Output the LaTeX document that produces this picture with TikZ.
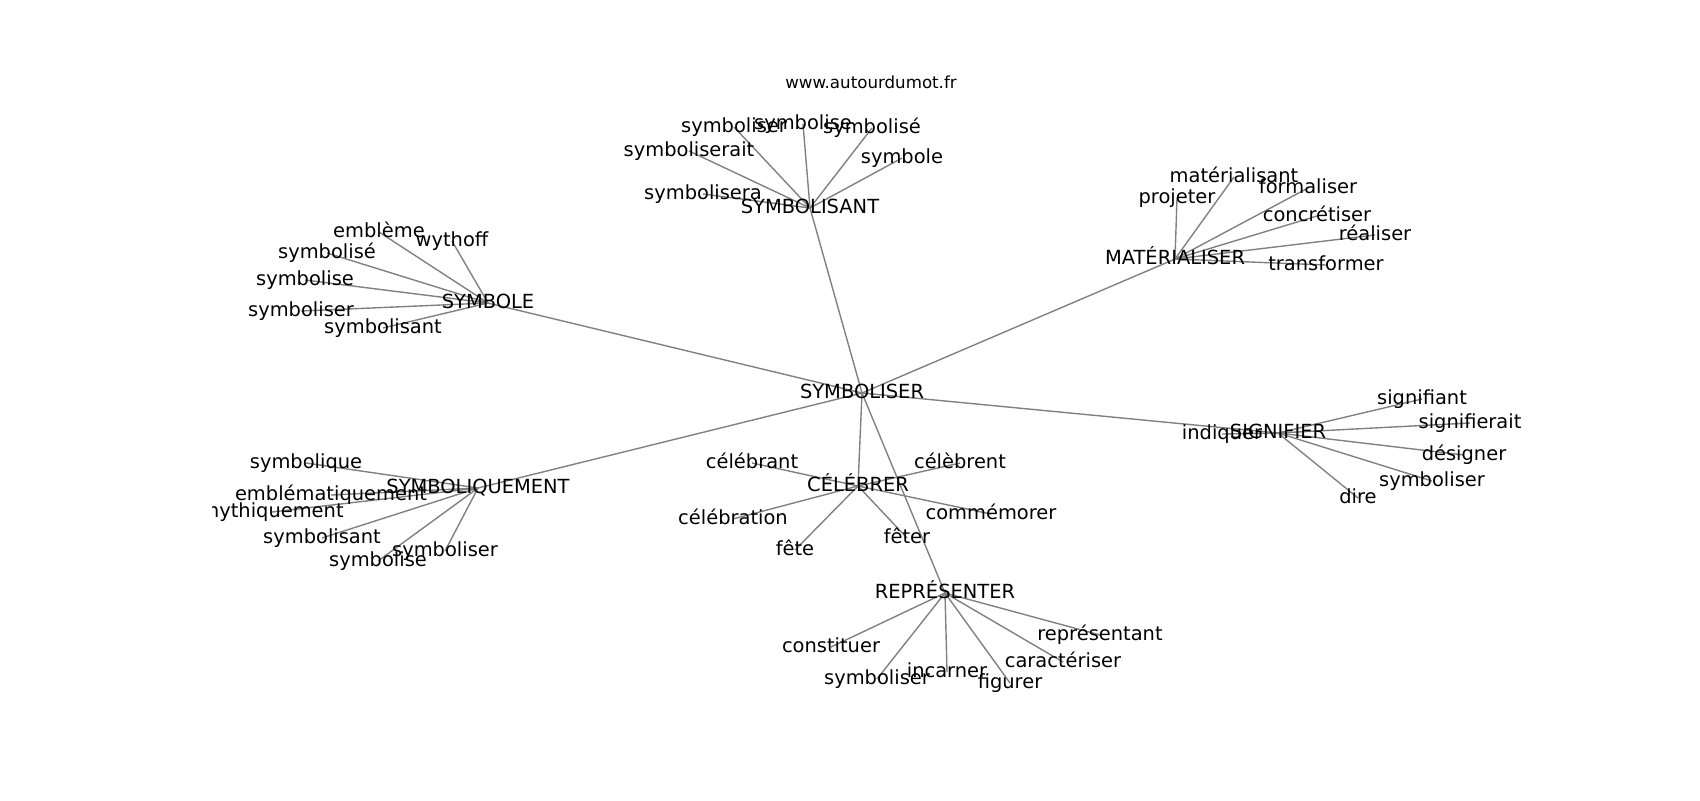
\documentclass[tikz,border=0pt]{standalone}
\usepackage{fontspec}
\setmainfont{DejaVu Sans}
\pgfdeclarelayer{background}
\pgfsetlayers{background,main}
\begin{document}
\begin{tikzpicture}[x=0.72pt,y=-0.72pt,
  lbl/.style={inner sep=0pt,text height=1.0em,text depth=0.14em,font=\fontsize{14}{17}\selectfont},
  ttl/.style={inner sep=0pt,text height=0.76em,text depth=0.208em,font=\fontsize{12}{14}\selectfont},
  edge/.style={draw=gray,line width=1pt}]
\useasboundingbox (0,0) rectangle (1700,800);
\node[ttl] (title) at (871,85) {www.autourdumot.fr};
\begin{scope}
\clip (212.5,96) rectangle (1530,704);
% hubs
\node[lbl] (root) at (862,393) {SYMBOLISER};
\node[lbl] (hA) at (810,208) {SYMBOLISANT};
\node[lbl] (hB) at (488,303) {SYMBOLE};
\node[lbl] (hC) at (1175,259) {MATÉRIALISER};
\node[lbl] (hD) at (478,488) {SYMBOLIQUEMENT};
\node[lbl] (hE) at (1278,433) {SIGNIFIER};
\node[lbl] (hF) at (858,486) {CÉLÉBRER};
\node[lbl] (hG) at (945,593) {REPRÉSENTER};
% SYMBOLISANT leaves
\node[lbl] (a1) at (734,127) {symboliser};
\node[lbl] (a2) at (803,124) {symbolise};
\node[lbl] (a3) at (872,128) {symbolisé};
\node[lbl] (a4) at (902,158) {symbole};
\node[lbl] (a5) at (689,151) {symboliserait};
\node[lbl] (a6) at (703,194) {symbolisera};
% SYMBOLE leaves
\node[lbl] (b1) at (379,232) {emblème};
\node[lbl] (b2) at (452,241) {wythoff};
\node[lbl] (b3) at (327,253) {symbolisé};
\node[lbl] (b4) at (305,280) {symbolise};
\node[lbl] (b5) at (301,311) {symboliser};
\node[lbl] (b6) at (383,328) {symbolisant};
% MATERIALISER leaves
\node[lbl] (c1) at (1234,177) {matérialisant};
\node[lbl] (c2) at (1177,198) {projeter};
\node[lbl] (c3) at (1308,188) {formaliser};
\node[lbl] (c4) at (1317,216) {concrétiser};
\node[lbl] (c5) at (1375,235) {réaliser};
\node[lbl] (c6) at (1326,265) {transformer};
% SYMBOLIQUEMENT leaves
\node[lbl] (d1) at (306,463) {symbolique};
\node[lbl] (d2) at (331,495) {emblématiquement};
\node[lbl] (d3) at (272,512) {mythiquement};
\node[lbl] (d4) at (322,538) {symbolisant};
\node[lbl] (d5) at (445,551) {symboliser};
\node[lbl] (d6) at (378,561) {symbolise};
% SIGNIFIER leaves
\node[lbl] (e1) at (1222,434) {indiquer};
\node[lbl] (e2) at (1422,399) {signifiant};
\node[lbl] (e3) at (1470,423) {signifierait};
\node[lbl] (e4) at (1464,455) {désigner};
\node[lbl] (e5) at (1432,481) {symboliser};
\node[lbl] (e6) at (1358,498) {dire};
% CELEBRER leaves
\node[lbl] (f1) at (752,463) {célébrant};
\node[lbl] (f2) at (960,463) {célèbrent};
\node[lbl] (f3) at (733,519) {célébration};
\node[lbl] (f4) at (991,514) {commémorer};
\node[lbl] (f5) at (795,550) {fête};
\node[lbl] (f6) at (907,538) {fêter};
% REPRESENTER leaves
\node[lbl] (g1) at (831,647) {constituer};
\node[lbl] (g2) at (877,679) {symboliser};
\node[lbl] (g3) at (947,672) {incarner};
\node[lbl] (g4) at (1010,683) {figurer};
\node[lbl] (g5) at (1063,662) {caractériser};
\node[lbl] (g6) at (1100,635) {représentant};
\begin{pgfonlayer}{background}
\foreach \h in {hA,hB,hC,hD,hE,hF,hG}
  \draw[edge] (root.center) -- (\h.center);
\foreach \l in {a1,a2,a3,a4,a5,a6}
  \draw[edge] (hA.center) -- (\l.center);
\foreach \l in {b1,b2,b3,b4,b5,b6}
  \draw[edge] (hB.center) -- (\l.center);
\foreach \l in {c1,c2,c3,c4,c5,c6}
  \draw[edge] (hC.center) -- (\l.center);
\foreach \l in {d1,d2,d3,d4,d5,d6}
  \draw[edge] (hD.center) -- (\l.center);
\foreach \l in {e1,e2,e3,e4,e5,e6}
  \draw[edge] (hE.center) -- (\l.center);
\foreach \l in {f1,f2,f3,f4,f5,f6}
  \draw[edge] (hF.center) -- (\l.center);
\foreach \l in {g1,g2,g3,g4,g5,g6}
  \draw[edge] (hG.center) -- (\l.center);
\end{pgfonlayer}
\end{scope}
\end{tikzpicture}
\end{document}
